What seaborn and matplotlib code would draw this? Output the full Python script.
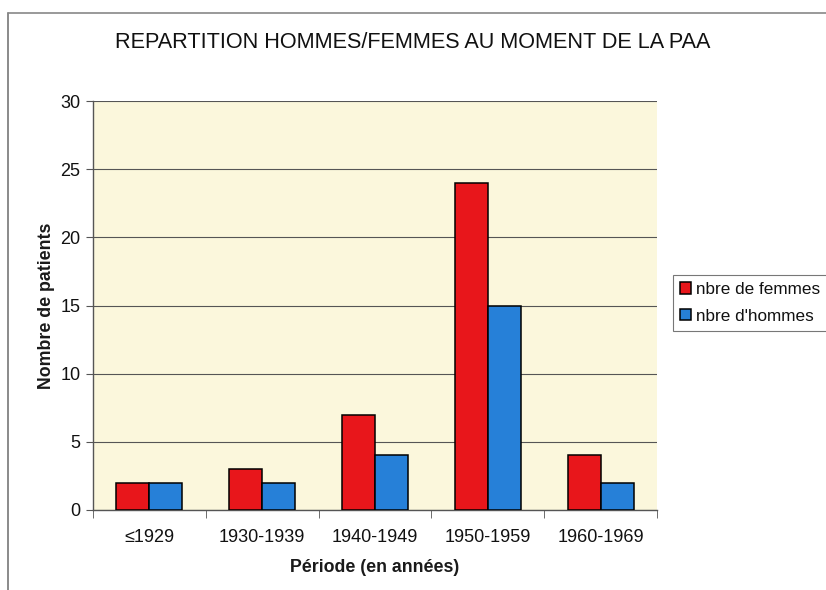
import matplotlib
matplotlib.use("Agg")
import matplotlib.pyplot as plt
import seaborn as sns
import pandas as pd
from matplotlib.lines import Line2D

periods = ["≤1929", "1930-1939", "1940-1949", "1950-1959", "1960-1969"]
femmes = [2, 3, 7, 24, 4]
hommes = [2, 2, 4, 15, 2]
series_names = ["nbre de femmes", "nbre d'hommes"]
colors = ["#E8161B", "#2680D8"]

df = pd.DataFrame({
    "Période": periods * 2,
    "value": femmes + hommes,
    "serie": [series_names[0]] * len(periods) + [series_names[1]] * len(periods),
})

sns.set_style("white")
plt.rcParams["font.family"] = ["Liberation Sans", "DejaVu Sans"]
plt.rcParams["text.color"] = "black"
plt.rcParams["axes.labelcolor"] = "black"
plt.rcParams["xtick.color"] = "black"
plt.rcParams["ytick.color"] = "black"

fig = plt.figure(figsize=(8.26, 5.9), dpi=100)
ax = fig.add_axes([93 / 826, 1 - 510 / 590, (657 - 93) / 826, (510 - 101) / 590])
ax.set_facecolor("#FBF7DC")

sns.barplot(data=df, x="Période", y="value", hue="serie", palette=colors,
            width=0.585, edgecolor="black", linewidth=1.1, ax=ax, zorder=3,
            saturation=1)

ax.set_ylim(0, 30)
ax.set_yticks(range(0, 31, 5))
ax.set_xlim(-0.5, len(periods) - 0.5)
ax.yaxis.grid(True, color="#555555", linewidth=0.8, zorder=0)
ax.set_axisbelow(True)
for s in ["top", "right"]:
    ax.spines[s].set_visible(False)
for s in ["left", "bottom"]:
    ax.spines[s].set_color("#555555")
    ax.spines[s].set_linewidth(1.0)

ax.tick_params(axis="y", length=5, direction="out", color="#555555", labelsize=13,
               labelcolor="#111111", left=True, pad=4)
ax.tick_params(axis="x", length=0, labelsize=13, labelcolor="#111111", pad=14)
ax.set_xticks([i + 0.5 for i in range(-1, len(periods))], minor=True)
ax.tick_params(axis="x", which="minor", length=6, direction="out", color="#555555", bottom=True)

ax.set_xlabel("Période (en années)", fontsize=12.8, fontweight="bold", labelpad=9, color="#1a1a1a")
ax.set_ylabel("Nombre de patients", fontsize=12.8, fontweight="bold", labelpad=4, color="#1a1a1a")

fig.text(0.5, 1 - 42 / 590, "REPARTITION HOMMES/FEMMES AU MOMENT DE LA PAA",
         ha="center", va="center", fontsize=15.6, color="#111111")

leg = ax.legend(loc="upper left", bbox_to_anchor=(673 / 826, 1 - 275 / 590),
                bbox_transform=fig.transFigure, frameon=True, fontsize=12.3,
                handlelength=0.65, handleheight=0.65, handletextpad=0.3,
                borderpad=0.4, labelspacing=0.7, fancybox=False, borderaxespad=0)
leg.get_frame().set_edgecolor("#555555")
leg.get_frame().set_linewidth(0.8)
for t in leg.get_texts():
    t.set_color("#111111")

fig.add_artist(Line2D([8 / 826, 8 / 826], [0, 1 - 13 / 590], transform=fig.transFigure,
                      color="#777777", linewidth=1.2))
fig.add_artist(Line2D([8 / 826, 1], [1 - 13 / 590, 1 - 13 / 590], transform=fig.transFigure,
                      color="#888888", linewidth=1.2))

fig.savefig("out.png", dpi=100, facecolor="white")
